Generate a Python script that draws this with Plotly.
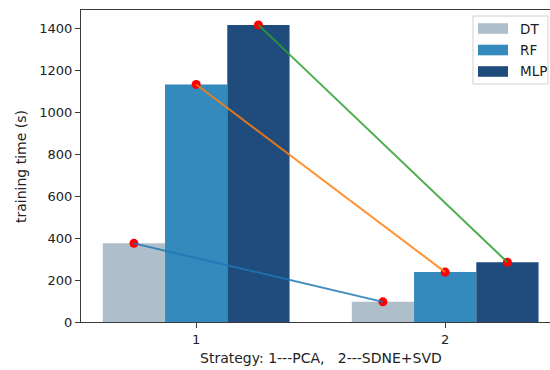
import plotly.graph_objects as go
import numpy as np

# ---- data ----
categories = [1, 2]
series_names = ["DT", "RF", "MLP"]
dt_times = [375, 96]
rf_times = [1133, 238]
mlp_times = [1417, 285]
y_ticks = [0, 200, 400, 600, 800, 1000, 1200, 1400]
x_title = "Strategy: 1---PCA,   2---SDNE+SVD"
y_title = "training time (s)"

# ---- style ----
bar_colors = ["#afbecb", "#348abd", "#1f4c7c"]
line_colors = ["rgba(31,119,180,0.85)", "rgba(255,127,14,0.85)", "rgba(44,160,44,0.85)"]
FONT = "DejaVu Sans"
TXT = "#222222"
W, H = 550, 370
L, T, B, R = 81, 10, 48, 0
PW, PH = W - L - R, H - T - B
bar_w = 0.25
x_range = [0.5375, 0.5375 + PW / 249.0]
y_range = [0, 1488]


def fx(px):
    return (px - L) / PW


def fy(py):
    return (H - B - py) / PH


series = [dt_times, rf_times, mlp_times]
offsets = [-bar_w, 0.0, bar_w]
cats = np.array(categories, dtype=float)

fig = go.Figure()
for name, vals, col in zip(series_names, series, bar_colors):
    fig.add_trace(go.Bar(x=categories, y=vals, name=name, marker=dict(color=col, line=dict(width=0)),
                         showlegend=False))

# red points (drawn under the lines)
for vals, off in zip(series, offsets):
    fig.add_trace(go.Scatter(x=cats + off, y=vals, mode="markers",
                             marker=dict(color="red", size=9, line=dict(width=0)),
                             showlegend=False, hoverinfo="skip"))
# connecting lines between the two strategies for each model
for vals, off, col in zip(series, offsets, line_colors):
    fig.add_trace(go.Scatter(x=cats + off, y=vals, mode="lines",
                             line=dict(color=col, width=2),
                             showlegend=False, hoverinfo="skip"))

fig.update_layout(
    width=W, height=H,
    margin=dict(l=L, r=R, t=T, b=B, pad=0),
    paper_bgcolor="white", plot_bgcolor="white",
    barmode="group", bargap=0.25, bargroupgap=0,
    font=dict(family=FONT, size=13, color=TXT),
    showlegend=False,
)
fig.update_xaxes(range=x_range, tickmode="array", tickvals=categories,
                 ticktext=[str(c) for c in categories],
                 showline=True, linecolor="#3a3a3a", linewidth=1, mirror=True,
                 ticks="outside", ticklen=5, tickwidth=1, tickcolor="#3a3a3a",
                 showgrid=False, zeroline=False, tickfont=dict(size=13, color=TXT))
fig.update_yaxes(range=y_range, tickmode="array", tickvals=y_ticks,
                 showline=True, linecolor="#3a3a3a", linewidth=1, mirror=False,
                 ticks="outside", ticklen=5, tickwidth=1, tickcolor="#3a3a3a",
                 showgrid=False, zeroline=False, tickfont=dict(size=13, color=TXT))

# axis titles (non-breaking spaces keep the triple space visible)
fig.add_annotation(text=x_title.replace(" ", "\u00a0"), xref="x", yref="paper", x=1.5, y=fy(358),
                   xanchor="center", yanchor="middle", showarrow=False,
                   font=dict(size=14, color=TXT))
fig.add_annotation(text=y_title, xref="paper", yref="paper", x=fx(21), y=fy(167),
                   xanchor="center", yanchor="middle", textangle=-90, showarrow=False,
                   font=dict(size=14, color=TXT))

# legend box
fig.add_shape(type="rect", xref="paper", yref="paper",
              x0=fx(473), x1=fx(548), y0=fy(84), y1=fy(16),
              line=dict(color="#d0d0d0", width=1), fillcolor="rgba(255,255,255,0.8)", layer="above")
centers = [28.5, 50, 71.5]
for name, col, cy in zip(series_names, bar_colors, centers):
    fig.add_shape(type="rect", xref="paper", yref="paper",
                  x0=fx(478), x1=fx(508), y0=fy(cy + 5.3), y1=fy(cy - 5.3),
                  line=dict(width=0), fillcolor=col, layer="above")
    fig.add_annotation(text=name, xref="paper", yref="paper", x=fx(518), y=fy(cy),
                       xanchor="left", yanchor="middle", showarrow=False,
                       font=dict(size=13.5, color=TXT))

fig.write_html("out.html", config={"displayModeBar": False},
               post_script="document.body.style.margin='0';document.body.style.overflow='hidden';")
